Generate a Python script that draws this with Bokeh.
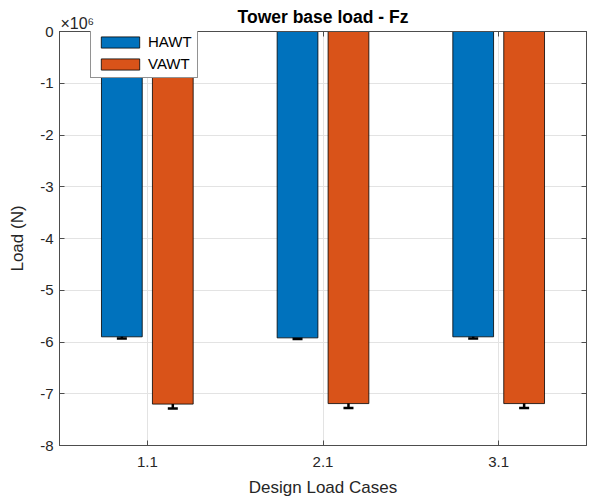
import math
from bokeh.plotting import figure
from bokeh.models import (ColumnDataSource, Range1d, FixedTicker, LinearAxis, Whisker,
                          TeeHead, Legend, LegendItem)
from bokeh.embed import file_html
from bokeh.resources import INLINE

# ---- data ----
cases = ["1.1", "2.1", "3.1"]
hawt = [-5.90e6, -5.92e6, -5.90e6]
vawt = [-7.20e6, -7.19e6, -7.19e6]
hawt_err = [0.03e6, 0.02e6, 0.03e6]
vawt_err = [0.085e6, 0.085e6, 0.085e6]
y_tick_values = [-8, -7, -6, -5, -4, -3, -2, -1, 0]
y_scale = 1e6
title_text = "Tower base load - Fz"
x_label = "Design Load Cases"
y_label = "Load (N)"

FONT = "Liberation Sans"
TXT = "#262626"
AX = "#4d4d4d"
BLUE = "#0072BD"
ORANGE = "#D95319"

idx = list(range(1, len(cases) + 1))
off = 0.145
bw = 0.232

src_h = ColumnDataSource(dict(x=[i - off for i in idx], top=hawt,
                              lo=[v - e for v, e in zip(hawt, hawt_err)],
                              hi=[v + e for v, e in zip(hawt, hawt_err)]))
src_v = ColumnDataSource(dict(x=[i + off for i in idx], top=vawt,
                              lo=[v - e for v, e in zip(vawt, vawt_err)],
                              hi=[v + e for v, e in zip(vawt, vawt_err)]))

x0 = 0.5
p = figure(width=594, height=499, output_backend="svg", toolbar_location=None,
           x_range=Range1d(x0, len(cases) + 0.5),
           y_range=Range1d(y_tick_values[0] * y_scale, y_tick_values[-1] * y_scale),
           min_border_left=59, min_border_right=8, min_border_top=31, min_border_bottom=53)
p.title = None

p.background_fill_color = "white"
p.border_fill_color = "white"
p.outline_line_color = AX
p.outline_line_width = 1

# grids
y_ticks_n = [v * y_scale for v in y_tick_values]
p.xgrid.ticker = FixedTicker(ticks=idx)
p.ygrid.ticker = FixedTicker(ticks=y_ticks_n)
for g in (p.xgrid, p.ygrid):
    g.grid_line_color = "#e3e3e3"
    g.grid_line_width = 1

# axes
xa = p.xaxis[0]
xa.ticker = FixedTicker(ticks=idx)
xa.major_label_overrides = {i: c for i, c in zip(idx, cases)}
xa.axis_label = x_label
ya = p.yaxis[0]
ya.ticker = FixedTicker(ticks=y_ticks_n)
ya.major_label_overrides = {t: str(v) for t, v in zip(y_ticks_n, y_tick_values)}
ya.axis_label = y_label
for a in (xa, ya):
    a.axis_line_color = AX
    a.major_tick_line_color = AX
    a.major_tick_in = 5
    a.major_tick_out = 0
    a.minor_tick_line_color = None
    a.major_label_text_font = FONT
    a.major_label_text_font_size = "15px"
    a.major_label_text_color = TXT
    a.axis_label_text_font = FONT
    a.axis_label_text_font_size = "17px"
    a.axis_label_text_font_style = "normal"
    a.axis_label_text_color = TXT
xa.major_label_standoff = 11
xa.axis_label_standoff = 8
ya.major_label_standoff = 6
ya.axis_label_standoff = 10

# right axis: inward ticks only
ra = LinearAxis(ticker=FixedTicker(ticks=y_ticks_n))
ra.major_label_overrides = {t: "" for t in y_ticks_n}
ra.major_label_standoff = 0
ra.axis_line_color = AX
ra.major_tick_line_color = AX
ra.major_tick_in = 5
ra.major_tick_out = 0
ra.minor_tick_line_color = None
p.add_layout(ra, "right")

# top axis: inward ticks, exponent label and the title
exp_label = "\u00a0" * 8 + "\u00d710" + "\u2076"
ta_ticks = [x0 + 1e-4] + idx
ta = LinearAxis(ticker=FixedTicker(ticks=ta_ticks))
ta.major_label_overrides = {ta_ticks[0]: exp_label, **{i: "" for i in idx}}
ta.major_label_standoff = 0
ta.major_label_text_font = FONT
ta.major_label_text_font_size = "16px"
ta.major_label_text_color = TXT
ta.axis_line_color = AX
ta.major_tick_line_color = AX
ta.major_tick_in = 5
ta.major_tick_out = 0
ta.minor_tick_line_color = None
ta.axis_label = title_text
ta.axis_label_text_font = FONT
ta.axis_label_text_font_size = "17.5px"
ta.axis_label_text_font_style = "bold"
ta.axis_label_text_color = "black"
ta.axis_label_standoff = -15
p.add_layout(ta, "above")

r_h = p.vbar(x="x", top="top", bottom=0, width=bw, source=src_h,
             fill_color=BLUE, line_color="black", line_width=0.8)
r_v = p.vbar(x="x", top="top", bottom=0, width=bw, source=src_v,
             fill_color=ORANGE, line_color="black", line_width=0.8)

for s in (src_h, src_v):
    w = Whisker(base="x", lower="lo", upper="hi", source=s, dimension="height",
                line_color="black", line_width=2.5,
                lower_head=TeeHead(size=10, line_color="black", line_width=2.5),
                upper_head=TeeHead(size=10, line_color="black", line_width=2.5))
    p.add_layout(w)

legend = Legend(items=[LegendItem(label="HAWT", renderers=[r_h]),
                       LegendItem(label="VAWT", renderers=[r_v])],
                location=(31, 367), orientation="vertical")
legend.glyph_width = 48
legend.glyph_height = 14
legend.label_height = 14
legend.label_width = 44
legend.label_standoff = 4
legend.padding = 5
legend.spacing = 5
legend.margin = 0
legend.label_text_font = FONT
legend.label_text_font_size = "15px"
legend.label_text_color = "black"
legend.border_line_color = TXT
legend.border_line_width = 1
legend.background_fill_color = "white"
legend.background_fill_alpha = 1
p.add_layout(legend, "center")

open("out.html", "w").write(file_html(p, INLINE))
